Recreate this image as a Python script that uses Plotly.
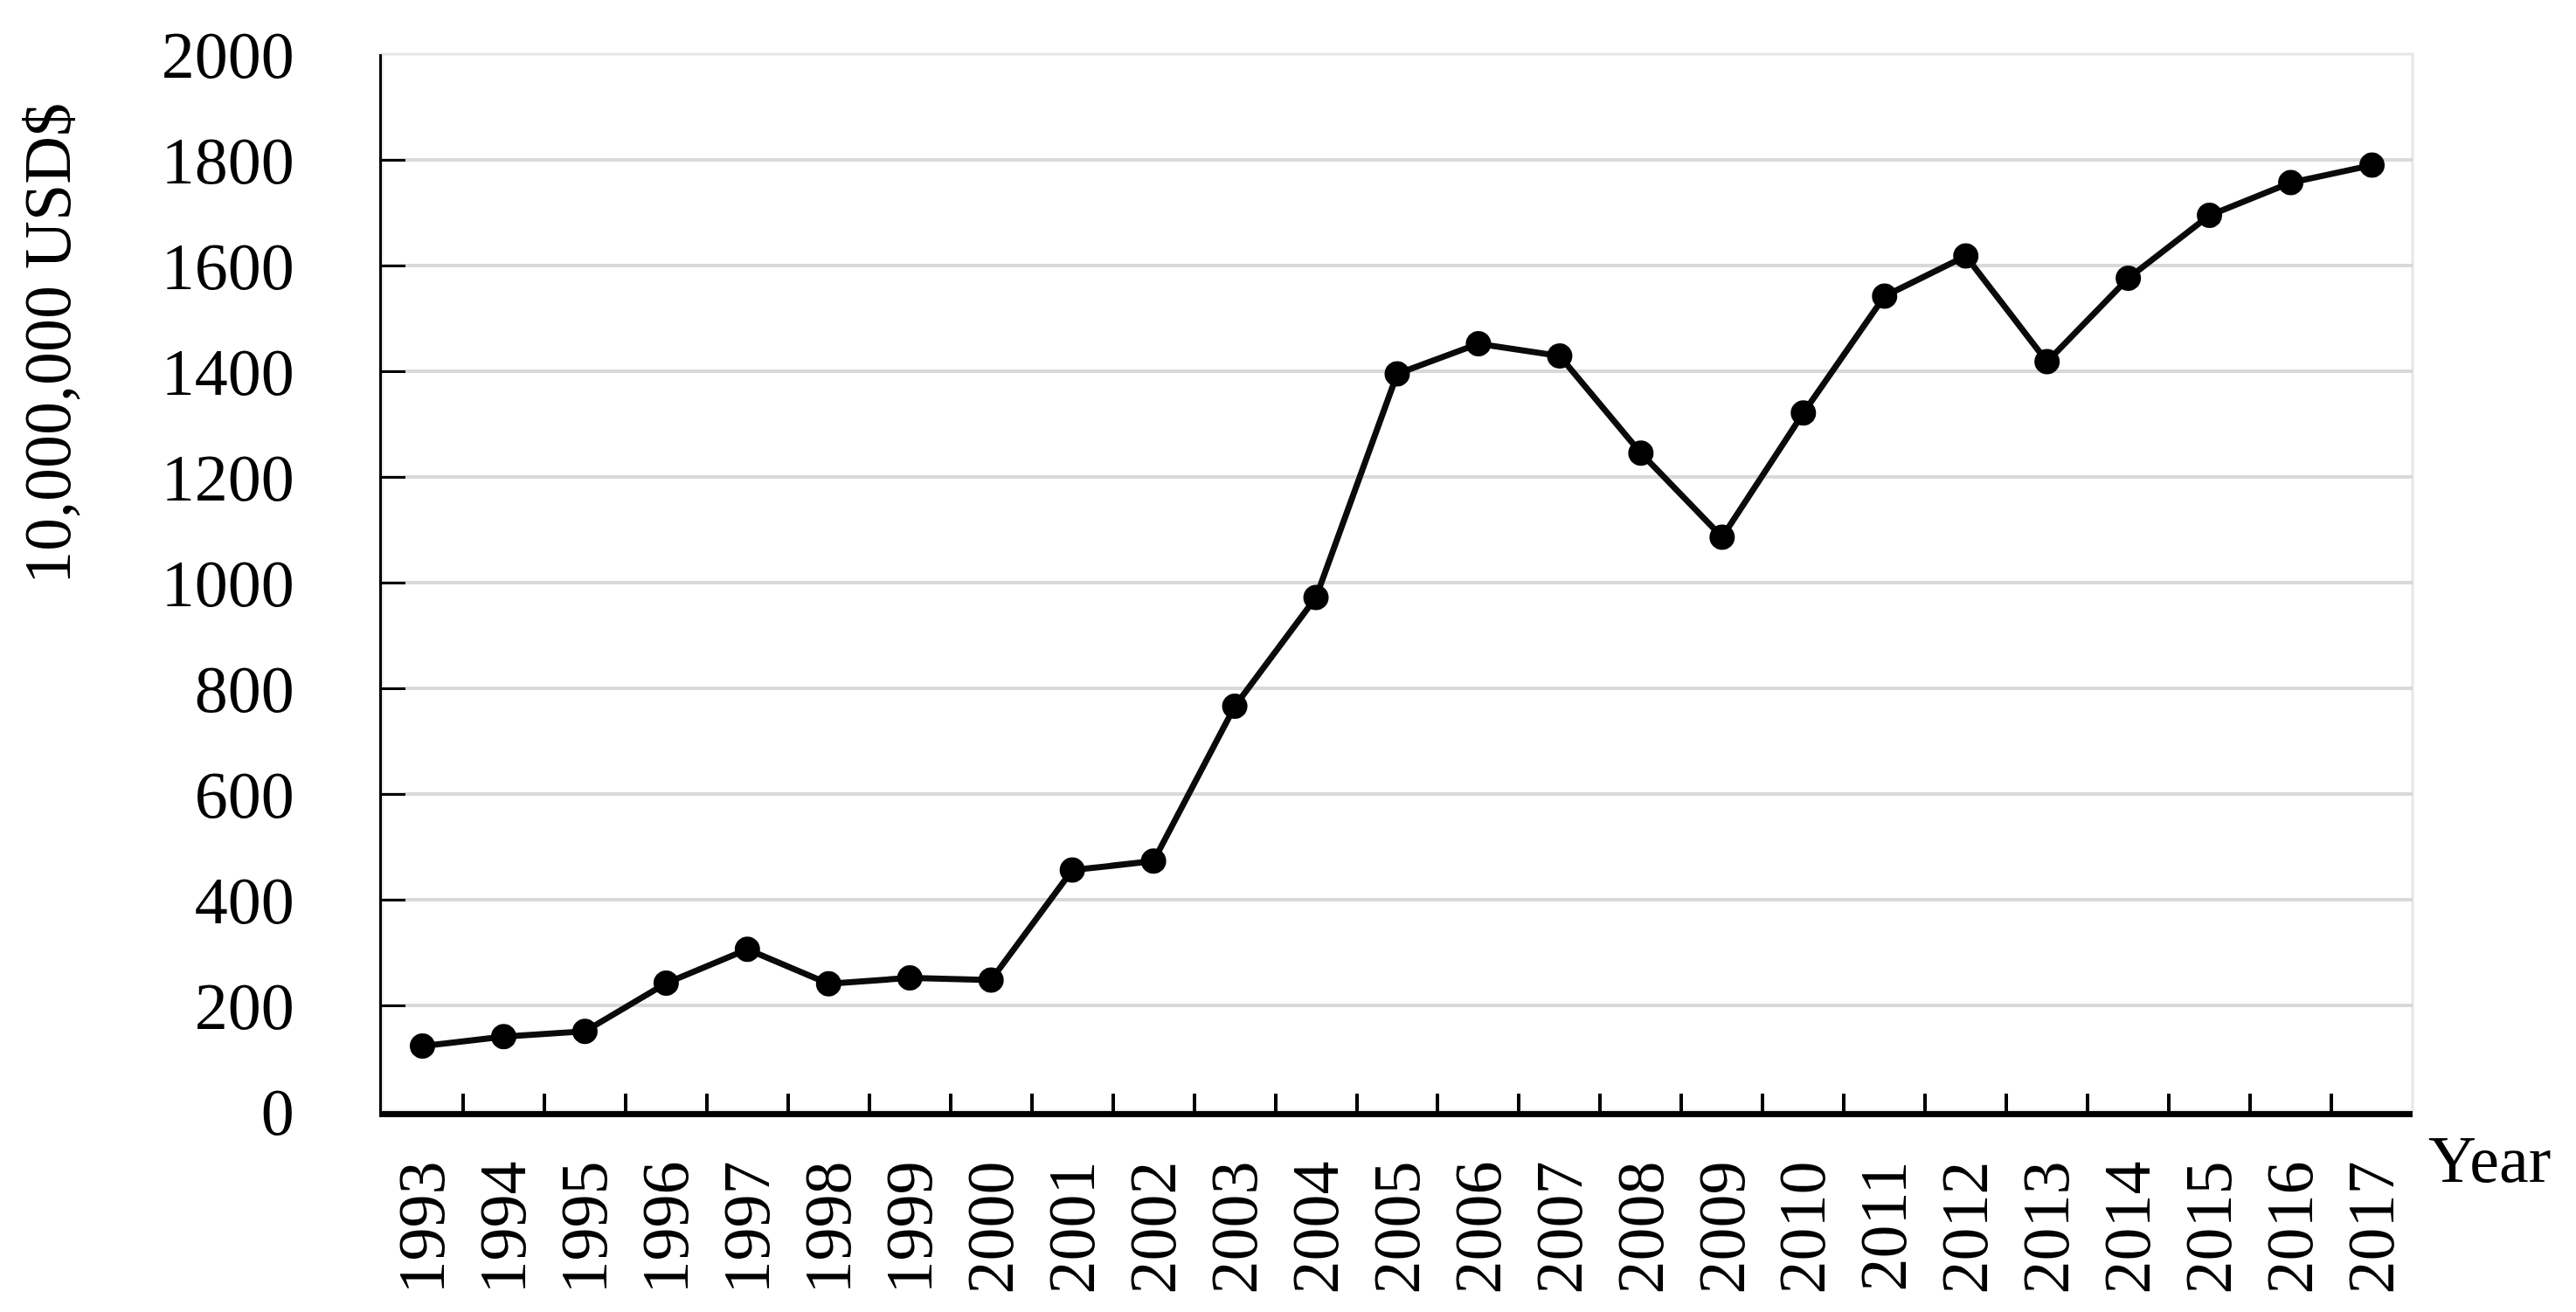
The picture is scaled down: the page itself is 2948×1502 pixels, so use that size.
import plotly.graph_objects as go

years = [str(y) for y in range(1993, 2018)]
values = [123, 141, 151, 242, 306, 241, 252, 248, 456, 473, 766, 972, 1395,
          1452, 1429, 1245, 1086, 1321, 1542, 1618, 1418, 1576, 1695, 1757, 1790]
y_ticks = list(range(0, 2001, 200))
y_title = "10,000,000 USD$"
x_title = "Year"

FONT = "Liberation Serif"
FS = 76

fig = go.Figure()
fig.add_trace(go.Scatter(
    x=years, y=values, mode="lines+markers",
    line=dict(color="#0a0a0a", width=7),
    marker=dict(color="black", size=29),
    showlegend=False,
))

# page body adds an 8px offset, so margins are shifted to compensate
fig.update_layout(
    width=2948, height=1502, autosize=False,
    margin=dict(l=429, r=195, t=54, b=238, pad=0),
    plot_bgcolor="white", paper_bgcolor="white",
    font=dict(family=FONT, size=FS, color="black"),
    shapes=[dict(type="rect", xref="paper", yref="paper", x0=0, x1=1, y0=0, y1=1,
                 line=dict(color="#e6e6e6", width=3), layer="below")],
    annotations=[
        dict(text=y_title, xref="paper", yref="paper", x=-(437 - 54) / 2324,
             y=(1272 - 394) / 1210, textangle=-90, showarrow=False,
             xanchor="center", yanchor="middle", font=dict(family=FONT, size=FS)),
        dict(text=x_title, xref="paper", yref="paper", x=(2777 - 437) / 2324,
             y=-(1327 - 1272) / 1210, showarrow=False,
             xanchor="left", yanchor="middle", font=dict(family=FONT, size=FS)),
    ],
)

fig.update_xaxes(
    type="category", range=[-0.5, len(years) - 0.5],
    showline=True, linecolor="black", linewidth=7,
    ticks="inside", tickson="boundaries", ticklen=20, tickwidth=4, tickcolor="black",
    tickangle=-90, showgrid=False, ticklabelstandoff=20,
    tickfont=dict(family=FONT, size=FS, color="black"),
)
fig.update_yaxes(
    range=[0, 2000], tickvals=y_ticks, ticktext=[str(v) for v in y_ticks],
    showline=True, linecolor="black", linewidth=3,
    ticks="inside", ticklen=27, tickwidth=3, tickcolor="black",
    showgrid=True, gridcolor="#d9d9d9", gridwidth=4, zeroline=False,
    ticklabelstandoff=82,
    tickfont=dict(family=FONT, size=FS, color="black"),
)

fig.write_html("out.html")
